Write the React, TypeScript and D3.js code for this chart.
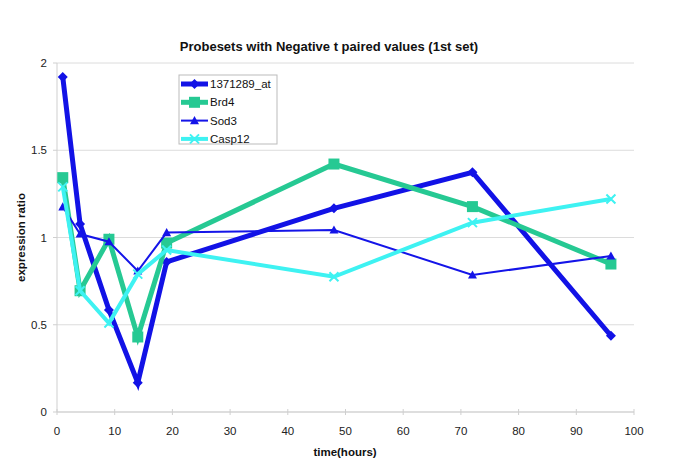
import * as d3 from 'd3';

const hours = [1, 4, 9, 14, 19, 48, 72, 96];
const probe1371289 = [1.92, 1.077, 0.585, 0.168, 0.86, 1.167, 1.374, 0.437];
const brd4 = [1.343, 0.695, 0.99, 0.43, 0.968, 1.421, 1.177, 0.848];
const sod3 = [1.176, 1.02, 0.976, 0.808, 1.028, 1.043, 0.785, 0.894];
const casp12 = [1.29, 0.695, 0.51, 0.79, 0.928, 0.775, 1.085, 1.221];

const xTicks = [0, 10, 20, 30, 40, 50, 60, 70, 80, 90, 100];
const yTicks = [0, 0.5, 1, 1.5, 2];

type Marker = 'diamond' | 'square' | 'triangle' | 'cross';

const series: { name: string; values: number[]; color: string; width: number; marker: Marker }[] = [
  { name: '1371289_at', values: probe1371289, color: '#1212e6', width: 5, marker: 'diamond' },
  { name: 'Brd4', values: brd4, color: '#26c993', width: 5, marker: 'square' },
  { name: 'Sod3', values: sod3, color: '#1414e8', width: 2, marker: 'triangle' },
  { name: 'Casp12', values: casp12, color: '#3ef2f2', width: 4, marker: 'cross' },
];

const W = 685;
const H = 470;
const left = 57;
const right = 634;
const top = 63;
const bottom = 412;
const font = 'Liberation Sans, Arial, sans-serif';

function MarkerShape({ type, x, y, color }: { type: Marker; x: number; y: number; color: string }) {
  if (type === 'diamond') {
    const s = 5;
    return <path d={`M${x},${y - s}L${x + s},${y}L${x},${y + s}L${x - s},${y}Z`} fill={color} />;
  }
  if (type === 'square') {
    const s = 5.5;
    return <rect x={x - s} y={y - s} width={s * 2} height={s * 2} fill={color} />;
  }
  if (type === 'triangle') {
    const s = 4.5;
    return <path d={`M${x},${y - s}L${x + s},${y + s * 0.8}L${x - s},${y + s * 0.8}Z`} fill={color} />;
  }
  const s = 4.5;
  return (
    <path
      d={`M${x - s},${y - s}L${x + s},${y + s}M${x + s},${y - s}L${x - s},${y + s}`}
      stroke={color}
      strokeWidth={2}
      fill="none"
    />
  );
}

export default function App() {
  const x = d3.scaleLinear().domain([0, 100]).range([left, right]);
  const y = d3.scaleLinear().domain([0, 2]).range([bottom, top]);

  const line = d3
    .line<number>()
    .x((_, i) => x(hours[i]))
    .y((d) => y(d));

  return (
    <div style={{ position: 'absolute', left: 0, top: 0 }}>
      <svg width={W} height={H} style={{ display: 'block', background: '#fff' }} fontFamily={font}>
        {/* grid */}
        {yTicks.map((t) => (
          <line key={'g' + t} x1={left} x2={right} y1={y(t)} y2={y(t)} stroke="#dcdcdc" strokeWidth={1} />
        ))}
        <line x1={left} x2={left} y1={top} y2={bottom} stroke="#cfcfcf" />
        <line x1={left} x2={right} y1={bottom} y2={bottom} stroke="#cfcfcf" />
        {xTicks.map((t) => (
          <line key={'xt' + t} x1={x(t)} x2={x(t)} y1={bottom - 3} y2={bottom + 3} stroke="#cfcfcf" />
        ))}
        {yTicks.map((t) => (
          <line key={'yt' + t} x1={left - 4} x2={left} y1={y(t)} y2={y(t)} stroke="#cfcfcf" />
        ))}

        {/* tick labels */}
        {xTicks.map((t) => (
          <text key={'xl' + t} x={x(t)} y={435} textAnchor="middle" fontSize={11.5} fill="#222">
            {t}
          </text>
        ))}
        {yTicks.map((t) => (
          <text key={'yl' + t} x={47} y={y(t) + 4} textAnchor="end" fontSize={11.5} fill="#222">
            {t}
          </text>
        ))}

        {/* titles */}
        <text x={329} y={51} textAnchor="middle" fontSize={13} fontWeight="bold" fill="#111">
          Probesets with Negative t paired values (1st set)
        </text>
        <text x={345} y={456} textAnchor="middle" fontSize={11.5} fontWeight="bold" fill="#111">
          time(hours)
        </text>
        <text
          transform={`translate(25,${(top + bottom) / 2}) rotate(-90)`}
          textAnchor="middle"
          fontSize={11.5}
          fontWeight="bold"
          fill="#111"
        >
          expression ratio
        </text>

        {/* series */}
        {series.map((s) => (
          <g key={s.name}>
            <path d={line(s.values) ?? ''} fill="none" stroke={s.color} strokeWidth={s.width} strokeLinejoin="miter" />
            {s.values.map((v, i) => (
              <MarkerShape key={i} type={s.marker} x={x(hours[i])} y={y(v)} color={s.color} />
            ))}
          </g>
        ))}

        {/* legend */}
        <rect x={179} y={75} width={98} height={69} fill="#fff" stroke="#bbb" />
        {series.map((s, i) => {
          const ly = 84 + i * 18.3;
          return (
            <g key={'lg' + s.name}>
              <line x1={181} x2={208} y1={ly} y2={ly} stroke={s.color} strokeWidth={s.width} />
              <MarkerShape type={s.marker} x={194.5} y={ly} color={s.color} />
              <text x={210} y={ly + 4} fontSize={11.5} fill="#111">
                {s.name}
              </text>
            </g>
          );
        })}
      </svg>
    </div>
  );
}
